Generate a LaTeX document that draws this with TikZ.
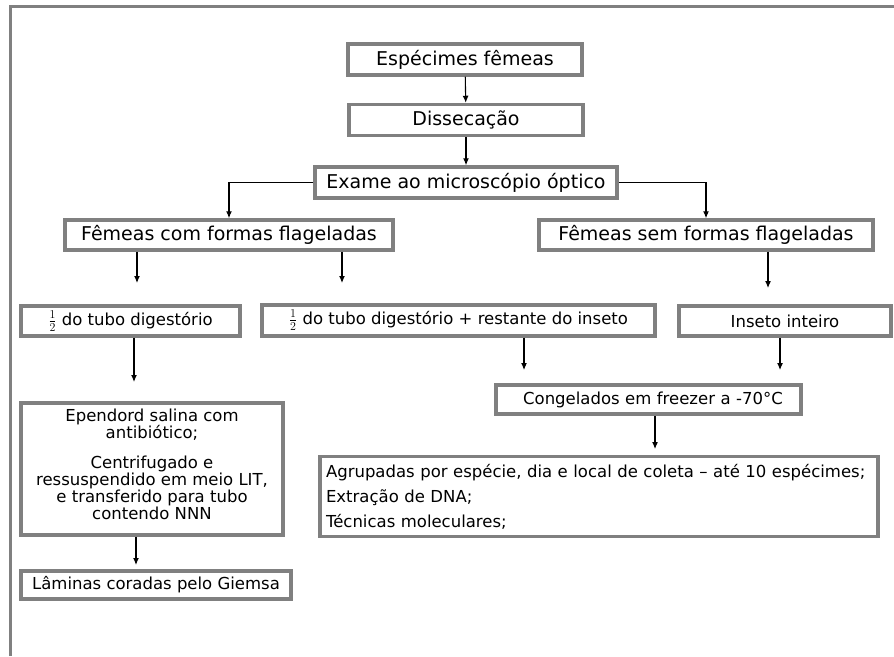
\documentclass[tikz,border=0pt]{standalone}
\usepackage{fontspec}
\setmainfont{DejaVu Sans}
\usetikzlibrary{arrows.meta}
\definecolor{boxgray}{RGB}{128,128,128}
\tikzset{
  box/.style={draw=boxgray, line width=3.5pt, fill=white, inner sep=0pt, align=center, font=\fontsize{19}{22}\selectfont},
  midbox/.style={box, font=\fontsize{16.5}{19}\selectfont},
  txt/.style={inner sep=0pt, align=center, font=\fontsize{16.5}{15.5}\selectfont},
  arr/.style={draw=black, line width=1.1pt, -{Latex[length=7pt,width=6pt]}},
  frame/.style={draw=boxgray, line width=3pt}
}
\begin{document}
\begin{tikzpicture}[x=1pt,y=-1pt]
\useasboundingbox (0,0) rectangle (894,656);
\draw[frame] (10,656) -- (10,6) -- (895,6);

\node[box, minimum width=234pt, minimum height=31pt] (b1) at (465,59.5) {Espécimes fêmeas};
\node[box, minimum width=234pt, minimum height=31pt] (b2) at (466,120) {Dissecação};
\node[box, minimum width=302pt, minimum height=31pt] (b3) at (466,182.5) {Exame ao microscópio óptico};
\node[box, minimum width=328pt, minimum height=30pt] (b4) at (229,235) {Fêmeas com formas flageladas};
\node[box, minimum width=334pt, minimum height=30pt] (b5) at (706,235) {Fêmeas sem formas flageladas};
\node[midbox, minimum width=219pt, minimum height=30pt] (b6) at (130.5,321) {$\frac{1}{2}$ do tubo digestório};
\node[midbox, minimum width=393pt, minimum height=31pt] (b7) at (458.5,320.5) {$\frac{1}{2}$ do tubo digestório + restante do inseto};
\node[midbox, minimum width=212pt, minimum height=30pt] (b8) at (785,321) {Inseto inteiro};
\node[box, minimum width=262pt, minimum height=132pt] (b9) at (152,469) {};
\node[txt] (b9t) at (152,464) {Ependord salina com\\antibiótico;\\[14pt]Centrifugado e\\ressuspendido em meio LIT,\\e transferido para tubo\\contendo NNN};
\node[midbox, minimum width=305pt, minimum height=29pt, text width=301pt] (b10) at (648.5,399.5) {\hspace*{9pt}Congelados em freezer a -70°C};
\node[midbox, minimum width=558pt, minimum height=80pt, align=left, text width=546pt, font=\fontsize{16.5}{25}\selectfont] (b11) at (599,496.5) {Agrupadas por espécie, dia e local de coleta – até 10 espécimes;\\Extração de DNA;\\Técnicas moleculares;};
\node[midbox, minimum width=270pt, minimum height=28pt] (b12) at (156,585) {Lâminas coradas pelo Giemsa};

\coordinate (e4a) at (137,283);
\coordinate (e4b) at (342,283);
\coordinate (e5) at (768,288);
\coordinate (e6) at (134,382);
\coordinate (e7) at (524,370);
\coordinate (e8) at (780,370);
\coordinate (e10) at (655,449);
\coordinate (e9) at (136,565);

\draw[arr] (b1) -- (b2);
\draw[arr] (b2.south) -- (b3.north -| b2.south);
\draw[arr] (b3.west) -| (b4.north);
\draw[arr] (b3.east) -| (b5.north);
\draw[arr] (b4.south -| e4a) -- (e4a);
\draw[arr] (b4.south -| e4b) -- (e4b);
\draw[arr] (b5.south -| e5) -- (e5);
\draw[arr] (b6.south -| e6) -- (e6);
\draw[arr] (b7.south -| e7) -- (e7);
\draw[arr] (b8.south -| e8) -- (e8);
\draw[arr] (b10.south -| e10) -- (e10);
\draw[arr] (b9.south -| e9) -- (e9);
\end{tikzpicture}
\end{document}
